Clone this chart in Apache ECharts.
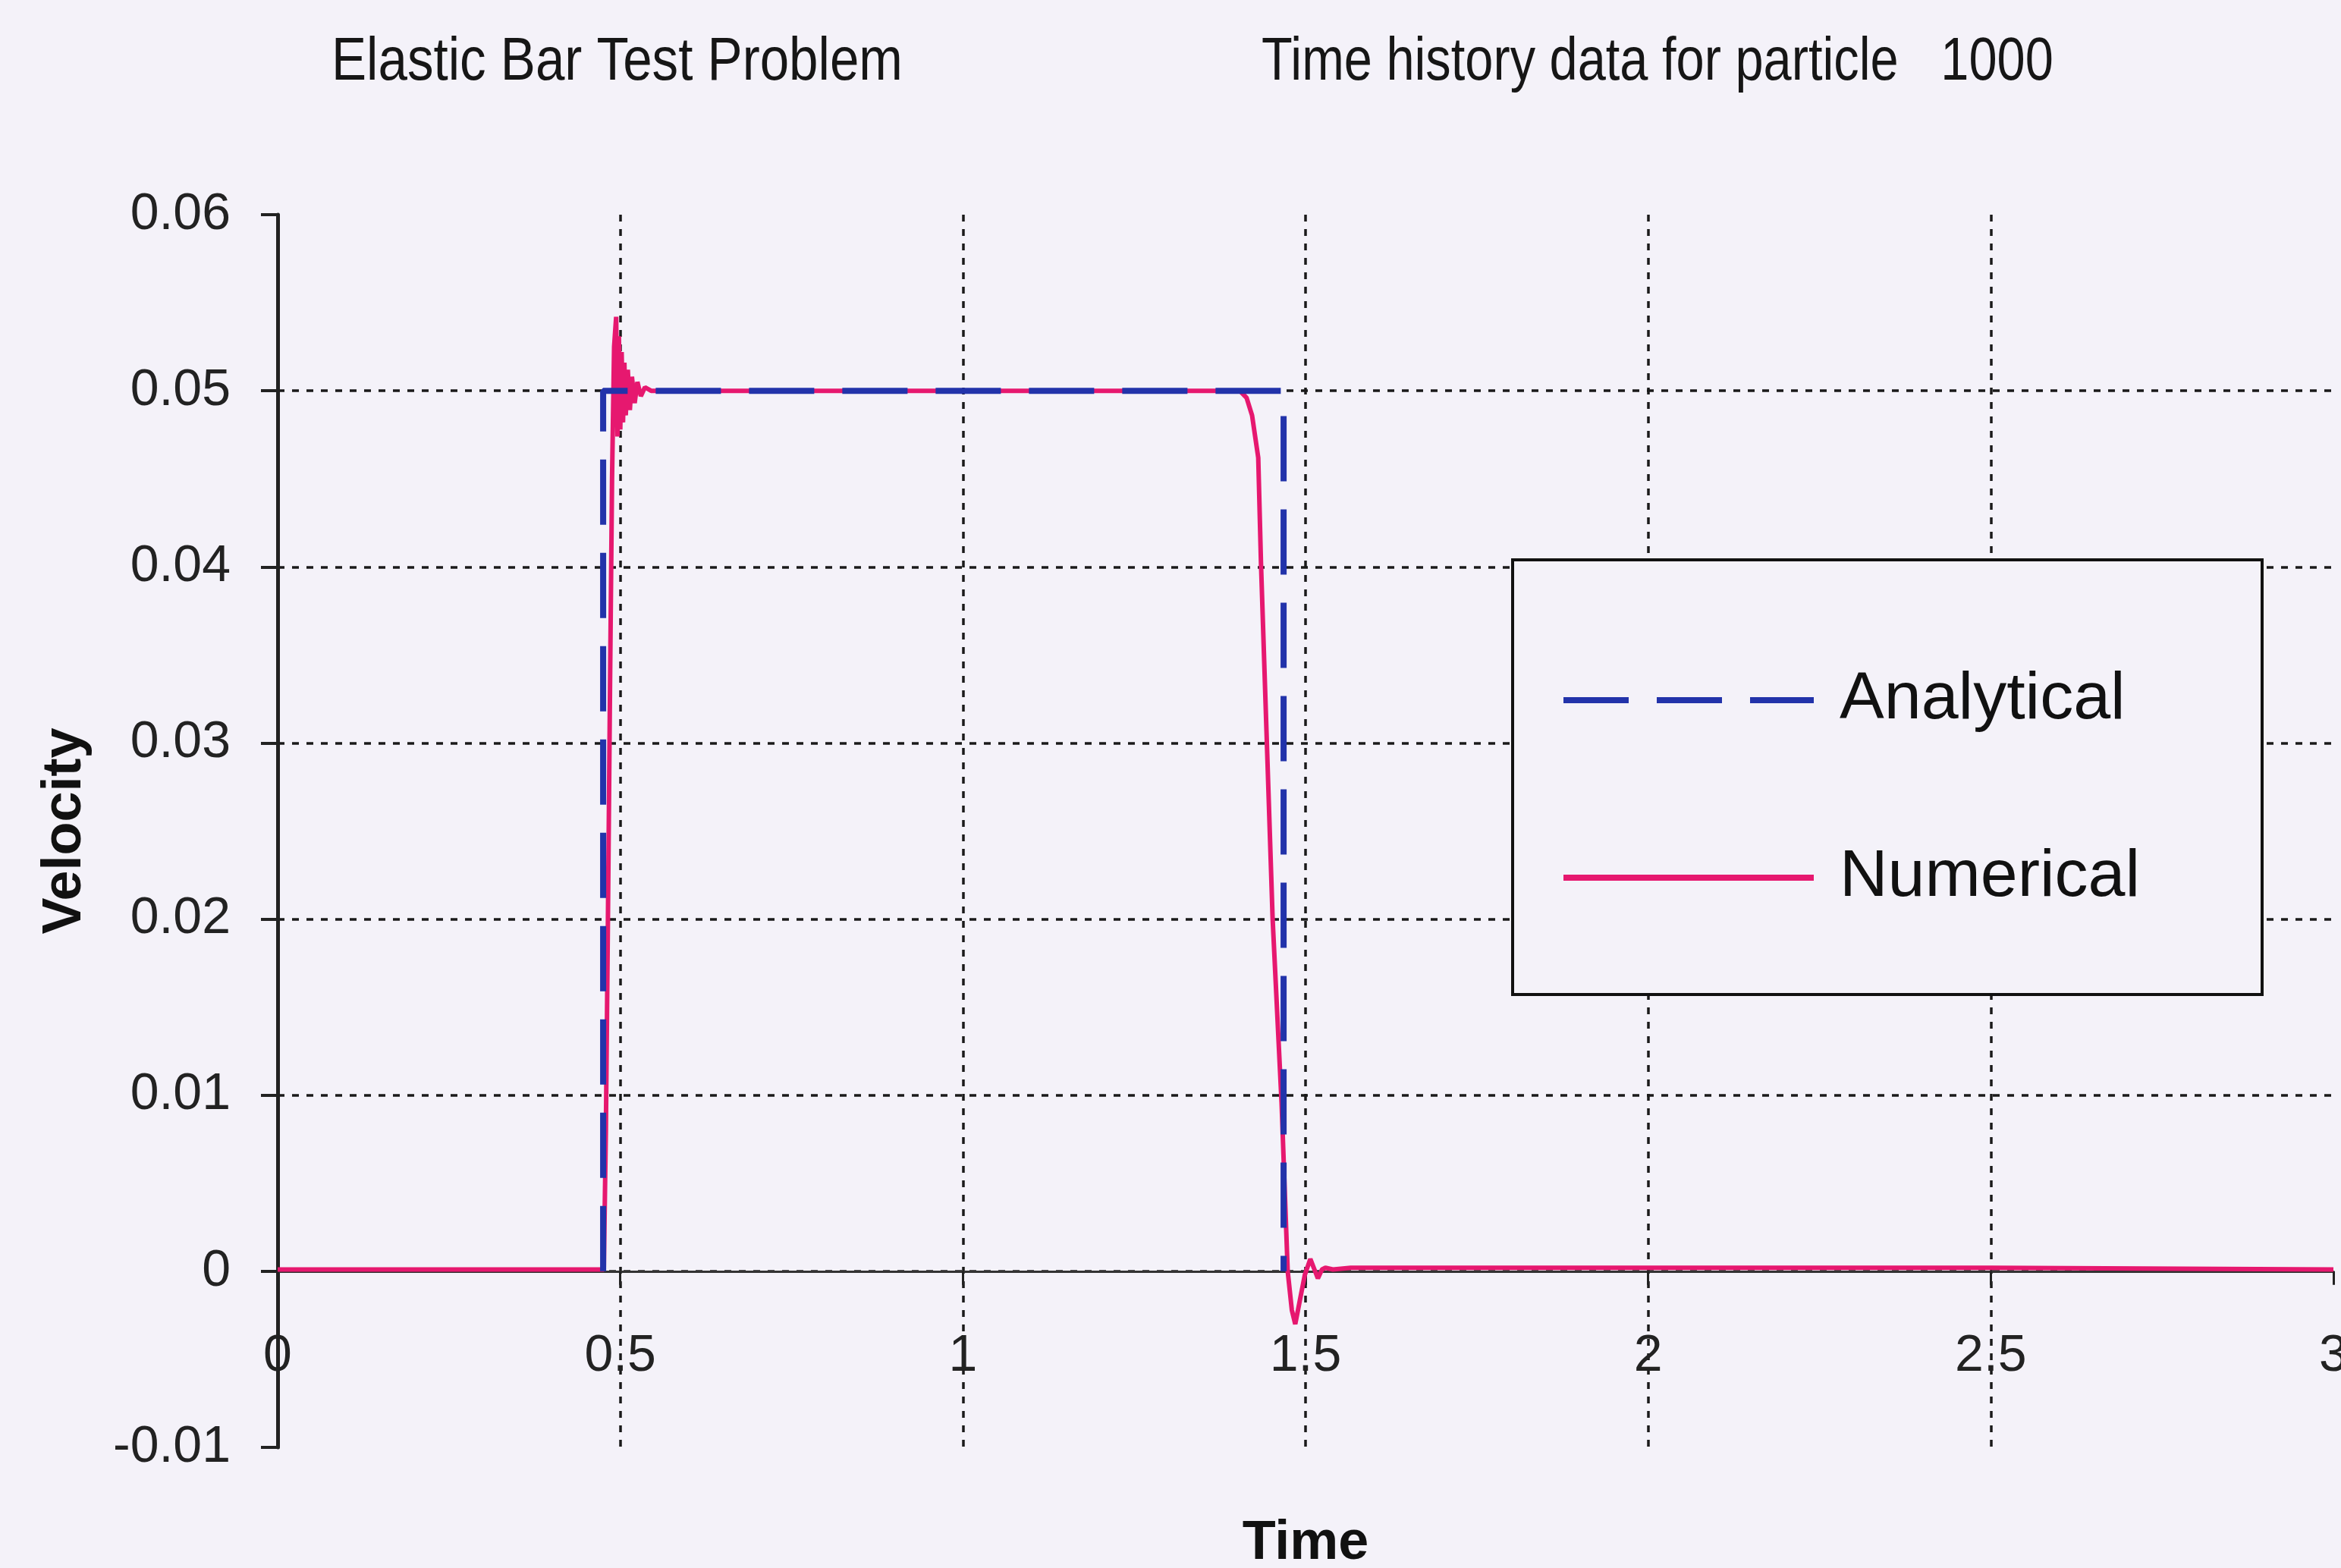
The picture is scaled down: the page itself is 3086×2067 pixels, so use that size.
<!DOCTYPE html>
<html>
<head>
<meta charset="utf-8">
<script src="https://cdn.jsdelivr.net/npm/echarts@6/dist/echarts.min.js"></script>
<style>
html,body{margin:0;padding:0;background:#f4f2f9;}
#c{width:3086px;height:2067px;}
</style>
</head>
<body>
<div id="c"></div>
<script>
// ---- data ----
const titleLeft = 'Elastic Bar Test Problem';
const titleRight = 'Time history data for particle   1000';
const xName = 'Time';
const yName = 'Velocity';
const seriesNames = ['Analytical', 'Numerical'];

const anaT = [0.475, 0.475, 1.468, 1.468];
const anaV = [0, 0.05, 0.05, 0];

const numT = [0, 0.2, 0.476, 0.479, 0.482, 0.485, 0.488, 0.491, 0.494, 0.496, 0.498, 0.500, 0.502, 0.504, 0.506, 0.508, 0.511, 0.514, 0.517, 0.521, 0.525, 0.530, 0.536, 0.545, 0.7, 1.0, 1.2, 1.404, 1.414, 1.422, 1.431, 1.435, 1.443, 1.452, 1.465, 1.474, 1.480, 1.485, 1.491, 1.499, 1.507, 1.513, 1.518, 1.524, 1.529, 1.540, 1.566, 2.0, 2.5, 3.0];
const numV = [0.0001, 0.0001, 0.0001, 0.008, 0.02, 0.033, 0.045, 0.0525, 0.0542, 0.0474, 0.0531, 0.0478, 0.0522, 0.0482, 0.0516, 0.0486, 0.0512, 0.0489, 0.0508, 0.0493, 0.0505, 0.0497, 0.0502, 0.05, 0.05, 0.05, 0.05, 0.05, 0.0496, 0.0486, 0.0462, 0.0402, 0.0307, 0.020, 0.0096, 0.0, -0.0022, -0.003, -0.0018, -0.0002, 0.0007, 0.0001, -0.0004, 0.0001, 0.0002, 0.0001, 0.0002, 0.0002, 0.0002, 0.0001];

const xMin = 0, xMax = 3, xStep = 0.5;
const yMin = -0.01, yMax = 0.06, yStep = 0.01;

// ---- chart ----
const FONT = "'Liberation Sans', Arial, sans-serif";
const BG = '#f4f2f9';
const anaData = anaT.map((t, i) => [t, anaV[i]]);
const numData = numT.map((t, i) => [t, numV[i]]);

const chart = echarts.init(document.getElementById('c'), null, {renderer: 'canvas'});
const gridStyle = {color: '#1a1a1a', width: 3.5, type: [9, 10]};
const hiddenSymbol = {color: 'rgba(0,0,0,0)', borderWidth: 0, opacity: 0};

chart.setOption({
  backgroundColor: BG,
  animation: false,
  grid: {left: 366, right: 10, top: 283, bottom: 2067 - 1908, containLabel: false, outerBoundsMode: 'none'},
  xAxis: {
    type: 'value', min: xMin, max: xMax, interval: xStep,
    name: xName, nameLocation: 'middle', nameGap: 91,
    nameTextStyle: {fontFamily: FONT, fontSize: 72, fontWeight: 'bold', color: '#111'},
    axisLine: {onZero: true, lineStyle: {color: '#333', width: 3}},
    axisTick: {show: true, length: 18, lineStyle: {color: '#222', width: 3}},
    axisLabel: {margin: -154, fontFamily: FONT, fontSize: 68, color: '#222'},
    splitLine: {show: true, showMinLine: false, showMaxLine: false, lineStyle: gridStyle}
  },
  yAxis: {
    type: 'value', min: yMin, max: yMax, interval: yStep,
    name: yName, nameLocation: 'middle', nameGap: 244,
    nameTextStyle: {fontFamily: FONT, fontSize: 72, fontWeight: 'bold', color: '#111'},
    axisLine: {show: true, lineStyle: {color: '#222', width: 5}},
    axisTick: {show: true, length: 22, lineStyle: {color: '#222', width: 4}},
    axisLabel: {margin: 62, fontFamily: FONT, fontSize: 68, color: '#222'},
    splitLine: {show: true, showMinLine: false, showMaxLine: false, lineStyle: gridStyle}
  },
  graphic: [
    {
      type: 'rect', z: 50,
      shape: {x: 1994, y: 738, width: 988, height: 573},
      style: {fill: BG, stroke: '#111', lineWidth: 4}
    },
    {
      type: 'text', z: 60, x: 437, y: 83, scaleX: 0.875,
      style: {text: titleLeft, font: '79px ' + FONT, fill: '#161616', verticalAlign: 'middle', align: 'left'}
    },
    {
      type: 'text', z: 60, x: 1663, y: 83, scaleX: 0.845,
      style: {text: titleRight, font: '79px ' + FONT, fill: '#161616', verticalAlign: 'middle', align: 'left'}
    }
  ],
  legend: {
    z: 100, orient: 'vertical', left: 2057, top: 873, padding: 0,
    itemWidth: 330, itemHeight: 20, itemGap: 134,
    data: [
      {name: seriesNames[0], itemStyle: hiddenSymbol},
      {name: seriesNames[1], itemStyle: hiddenSymbol}
    ],
    lineStyle: {width: 8},
    formatter: n => '{t|' + n + '}',
    textStyle: {fontFamily: FONT, fontSize: 88, color: '#111', lineHeight: 100,
      rich: {t: {fontFamily: FONT, fontSize: 88, color: '#111', lineHeight: 100, padding: [0, 0, 0, 29]}}}
  },
  series: [
    {
      name: seriesNames[0], type: 'line', data: anaData, showSymbol: false, symbol: 'none', z: 4,
      lineStyle: {color: '#2233aa', width: 8, type: [86, 37]},
      itemStyle: {color: '#2233aa'}
    },
    {
      name: seriesNames[1], type: 'line', data: numData, showSymbol: false, symbol: 'none', z: 3,
      lineStyle: {color: '#e6186f', width: 6, type: 'solid'},
      itemStyle: {color: '#e6186f'}
    }
  ]
});
</script>
</body>
</html>
